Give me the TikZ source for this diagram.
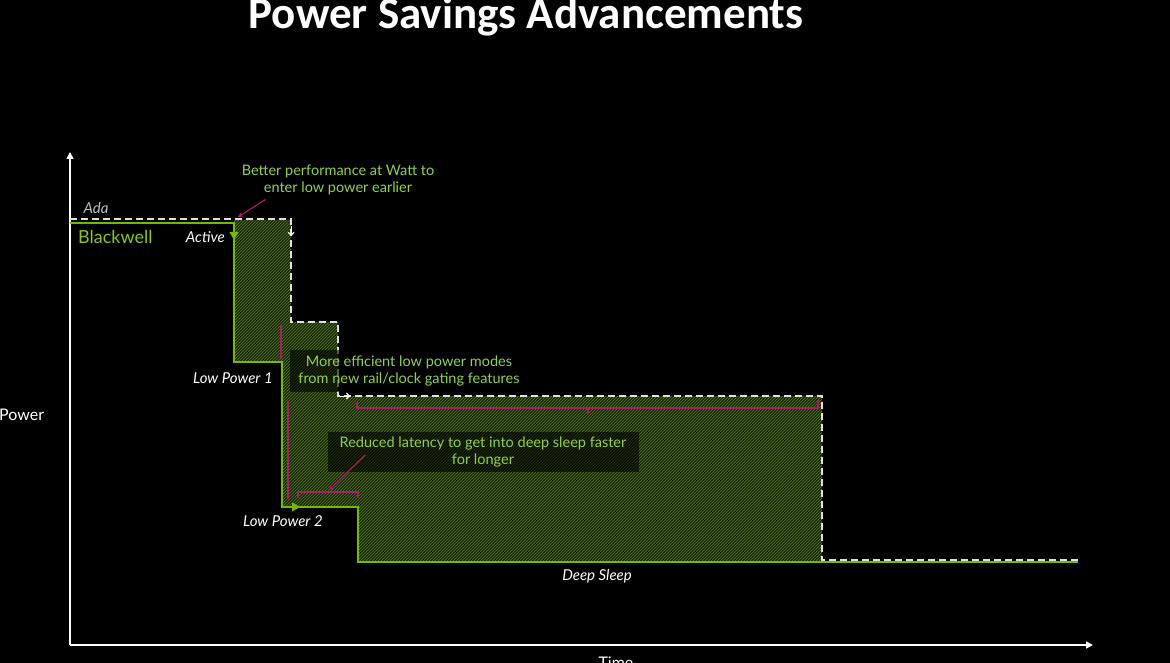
\documentclass[tikz,border=0pt]{standalone}
\usepackage{fontspec}
\setmainfont{Lato}
\newfontfamily\titlefont{Carlito}
\usetikzlibrary{patterns,arrows.meta}
\definecolor{nvgreen}{HTML}{76B900}
\definecolor{txtgreen}{HTML}{92D050}
\definecolor{mag}{HTML}{A3215F}
\definecolor{hatchbg}{HTML}{1B260F}
\definecolor{hatchfg}{HTML}{557F20}

\begin{document}
\begin{tikzpicture}[x=1pt, y=-1pt,
    lbl/.style={font=\itshape\fontsize{15}{17}\selectfont, text=white, inner sep=0pt},
    gtxt/.style={font=\fontsize{14.5}{17.5}\selectfont, text=txtgreen, align=center, inner sep=0pt},
    darkbox/.style={fill=black, fill opacity=0.6, text opacity=1},
    ada/.style={draw=white!88!black, dash pattern=on 7pt off 4pt, line width=1.7pt},
    bw/.style={draw=nvgreen, line width=2.6pt},
    notearrow/.style={draw=mag, line width=1.2pt, -{Stealth[length=5pt,width=5pt]}}]

    \fill[black] (0,0) rectangle (1170,663);
    \useasboundingbox (0,0) rectangle (1170,663);

    % saved power
    \fill[hatchbg] (234,220) -- (291,220) -- (291,322) -- (338,322) -- (338,396) -- (822,396)
        -- (822,561) -- (358,561) -- (358,507) -- (282,507) -- (282,362) -- (234,362) -- cycle;
    \fill[pattern=north east lines, pattern color=hatchfg] (234,220) -- (291,220) -- (291,322) -- (338,322) -- (338,396) -- (822,396)
        -- (822,561) -- (358,561) -- (358,507) -- (282,507) -- (282,362) -- (234,362) -- cycle;

    % axes
    \draw[white, line width=1.6pt, -{Triangle[length=7pt,width=7pt]}] (70,645) -- (70,152);
    \draw[white, line width=1.6pt, -{Triangle[length=7pt,width=7pt]}] (70,645) -- (1093,645);

    % blackwell
    \draw[bw, line join=miter] (70,223) -- (234,223) -- (234,362) -- (282,362) -- (282,507) -- (358,507) -- (358,562) -- (1078,562);
    \draw[nvgreen, line width=1pt, -{Triangle[length=8pt,width=9pt]}] (234,226) -- (234,240);
    \draw[nvgreen, line width=1pt, -{Triangle[length=8pt,width=9pt]}] (286,507) -- (300,507);

    % ada
    \draw[ada] (70,219) -- (291,219) -- (291,322) -- (338,322) -- (338,396) -- (822,396) -- (822,560) -- (1078,560);
    \draw[white, line width=1pt, -{Straight Barb[length=3pt]}] (291,226) -- (291,236);
    \draw[white, line width=1pt, -{Straight Barb[length=3pt]}] (340,396) -- (350,396);

    \node[font=\titlefont\bfseries\fontsize{45}{50}\selectfont, text=white, anchor=base] (ttl) at (526,29) {Power Savings Advancements};
    \node[font=\fontsize{16}{19}\selectfont, text=white, anchor=west, inner sep=0pt] (pw) at (-1,415) {Power};
    \node[font=\fontsize{16}{19}\selectfont, text=white, anchor=base, inner sep=0pt] (tm) at (616,668) {Time};

    \node[lbl, text=white!75!black] (ada) at (96,208) {Ada};
    \node[font=\fontsize{18}{21}\selectfont, text=nvgreen!85!white, anchor=west, inner sep=0pt] (bw) at (78,237) {Blackwell};
    \node[lbl, anchor=east] (act) at (225,237) {Active};
    \node[lbl] (lp1) at (233,378) {Low Power 1};
    \node[lbl] (lp2) at (283,521) {Low Power 2};
    \node[lbl] (ds) at (597,576) {Deep Sleep};

    \node[gtxt] (perf) at (338,180) {Better performance at Watt to\\enter low power earlier};
    \node[gtxt, darkbox, minimum width=238pt, minimum height=42pt] (eff) at (409,371) {More efficient low power modes\\from new rail/clock gating features};
    \node[gtxt, darkbox, minimum width=311pt, minimum height=40pt] (lat) at (483,452) {Reduced latency to get into deep sleep faster\\for longer};

    \coordinate (drop) at (238,217);
    \coordinate (latb) at (329,490);
    \draw[notearrow] ([xshift=24pt,yshift=-4pt]perf.south west) -- (drop);
    \draw[notearrow] ([xshift=38pt,yshift=-3pt]lat.west) -- (latb);

    \draw[draw=mag, line width=1.2pt, {Stealth[length=4pt]}-{Stealth[length=4pt]}] (281,324) -- (281,360);
    \draw[draw=mag, line width=1.2pt, {Stealth[length=4pt]}-{Stealth[length=4pt]}] (288,400) -- (288,500);
    \draw[draw=mag, line width=1.2pt] (357,402) -- (357,408) -- (818,408) -- (818,400);
    \draw[draw=mag, line width=1.2pt, -{Stealth[length=4pt]}] (588,408) -- (588,415);
    \draw[draw=mag, line width=1.2pt] (298,498) -- (298,492) -- (358,492) -- (358,498);
\end{tikzpicture}
\end{document}
